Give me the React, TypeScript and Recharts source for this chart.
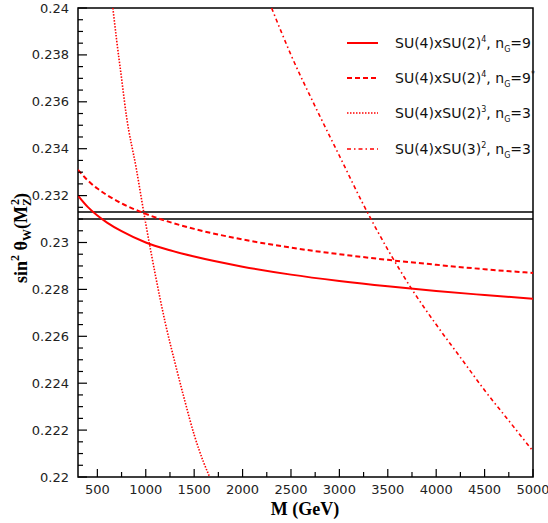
import { LineChart, Line, XAxis, YAxis, ReferenceLine, ReferenceArea, Legend } from 'recharts'

// SU(4)xSU(2)^4, nG=9
const massA = [300, 400, 500, 600, 750, 1000, 1250, 1500, 2000, 2500, 3000, 3500, 4000, 4500, 5000]
const sinA = [0.232, 0.23152, 0.23115, 0.23085, 0.23048, 0.23, 0.22967, 0.2294, 0.22897, 0.22863, 0.22836, 0.22813, 0.22793, 0.22776, 0.2276]

// SU(4)xSU(2)^4, nG=9*
const massB = [300, 400, 500, 600, 750, 1000, 1250, 1500, 2000, 2500, 3000, 3500, 4000, 4500, 5000]
const sinB = [0.2331, 0.23265, 0.2323, 0.23202, 0.23167, 0.23122, 0.23087, 0.23058, 0.23013, 0.22978, 0.2295, 0.22926, 0.22905, 0.22886, 0.2287]

// SU(4)xSU(2)^3, nG=3
const massC = [660, 700, 750, 800, 900, 1000, 1100, 1200, 1300, 1400, 1500, 1600, 1660]
const sinC = [0.24, 0.2386, 0.237, 0.2354, 0.2332, 0.2308, 0.2286, 0.2266, 0.2249, 0.2233, 0.2218, 0.2206, 0.22]

// SU(4)xSU(3)^2, nG=3
const massD = [2300, 2500, 2750, 3000, 3250, 3500, 3750, 4000, 4250, 4500, 4750, 5000]
const sinD = [0.24, 0.238, 0.2358, 0.2337, 0.2316, 0.2297, 0.228, 0.2265, 0.2251, 0.2237, 0.2224, 0.2211]

// experimental band
const bandLines = [0.2313, 0.231]

const xTicks = [500, 750, 1000, 1250, 1500, 1750, 2000, 2250, 2500, 2750, 3000, 3250, 3500, 3750, 4000, 4250, 4500, 4750, 5000]
const yMajor = [0.22, 0.222, 0.224, 0.226, 0.228, 0.23, 0.232, 0.234, 0.236, 0.238, 0.24]
const yTicks: number[] = []
yMajor.forEach((v, i) => {
  yTicks.push(v)
  if (i < yMajor.length - 1) [1, 2, 3].forEach((k) => yTicks.push(v + k * 0.0005))
})

const toRows = (ms: number[], ss: number[]) => ms.map((m, i) => ({ m, s: ss[i] }))

const series = [
  { key: 'a', data: toRows(massA, sinA), dash: undefined, width: 2, sup: '4', n: '9', star: false },
  { key: 'b', data: toRows(massB, sinB), dash: '5 3', width: 2, sup: '4', n: '9', star: true },
  { key: 'c', data: toRows(massC, sinC), dash: '1.5 1.5', width: 1.6, sup: '3', n: '3', star: false },
  { key: 'd', data: toRows(massD, sinD), dash: '4 3 1.5 3', width: 1.6, sup: '2', n: '3', star: false, su3: true },
]

const RED = '#ff0000'
const SANS = 'DejaVu Sans, sans-serif'
const SERIF = 'Liberation Serif, Times New Roman, serif'

const XTick = ({ x, y, payload }: any) => {
  const v = payload.value
  const major = v % 500 === 0
  return (
    <g>
      <line x1={x} x2={x} y1={y} y2={y - (major ? 8 : 5)} stroke="#000" strokeWidth={1.2} />
      {major && (
        <text x={x} y={y + 17} textAnchor="middle" fontSize={13} fill="#222" fontFamily={SANS}>
          {v}
        </text>
      )}
    </g>
  )
}

const YTick = ({ x, y, payload }: any) => {
  const v = payload.value
  const major = Math.round(v * 10000) % 20 === 0
  return (
    <g>
      <line x1={x} x2={x + (major ? 9 : 5)} y1={y} y2={y} stroke="#000" strokeWidth={1.2} />
      {major && (
        <text x={x - 9} y={y + 4.5} textAnchor="end" fontSize={13} fill="#222" fontFamily={SANS}>
          {String(Number(v.toFixed(3)))}
        </text>
      )}
    </g>
  )
}

const XTitle = () => (
  <text x={305} y={515} textAnchor="middle" fontSize={18} fontWeight="bold" fontFamily={SERIF} fill="#000">
    M (GeV)
  </text>
)

const YTitle = () => (
  <text
    transform="translate(27,238) rotate(-90)"
    textAnchor="middle"
    fontSize={18}
    fontWeight="bold"
    fontFamily={SERIF}
    fill="#000"
  >
    sin
    <tspan dy={-8} fontSize={12}>2</tspan>
    <tspan dy={8}> θ</tspan>
    <tspan dy={4} fontSize={12}>W</tspan>
    <tspan dy={-4}>(M</tspan>
    <tspan dy={4} fontSize={12}>Z</tspan>
    <tspan dx={-7} dy={-12} fontSize={12}>2</tspan>
    <tspan dy={8}>)</tspan>
  </text>
)

const LegendBox = () => (
  <div style={{ fontFamily: SANS, fontSize: 14, color: '#111' }}>
    {series.map((s) => (
      <div key={s.key} style={{ display: 'flex', alignItems: 'center', height: 35.3, whiteSpace: 'nowrap' }}>
        <svg width={34} height={10} style={{ marginRight: 15 }}>
          <line x1={1} x2={32} y1={5} y2={5} stroke={RED} strokeWidth={s.width} strokeDasharray={s.dash} />
        </svg>
        <span>
          SU(4)xSU({s.su3 ? 3 : 2})<sup style={{ fontSize: 8, lineHeight: 0 }}>{s.sup}</sup>, n
          <sub style={{ fontSize: 8, lineHeight: 0 }}>G</sub>={s.n}
          {s.star && <sup style={{ fontSize: 8, lineHeight: 0 }}>*</sup>}
        </span>
      </div>
    ))}
  </div>
)

export default function App() {
  return (
    <div style={{ position: 'absolute', left: 0, top: 0, width: 548, height: 523, background: '#fff' }}>
      <LineChart width={548} height={523} margin={{ top: 8, right: 15, bottom: 0, left: 0 }}>
        <XAxis
          type="number"
          dataKey="m"
          domain={[300, 5000]}
          ticks={xTicks}
          interval={0}
          tick={<XTick />}
          tickSize={0}
          tickMargin={0}
          tickLine={false}
          axisLine={false}
          height={46}
          allowDataOverflow
          label={XTitle}
        />
        <YAxis
          type="number"
          domain={[0.22, 0.24]}
          ticks={yTicks}
          interval={0}
          tick={<YTick />}
          tickSize={0}
          tickMargin={0}
          tickLine={false}
          axisLine={false}
          width={78}
          allowDataOverflow
          label={YTitle}
        />
        <ReferenceArea x1={300} x2={5000} y1={0.22} y2={0.24} fill="none" stroke="#000" strokeWidth={1.5} />
        {bandLines.map((v) => (
          <ReferenceLine key={v} y={v} stroke="#000" strokeWidth={1.5} />
        ))}
        {series.map((s) => (
          <Line
            key={s.key}
            data={s.data}
            dataKey="s"
            type="monotone"
            stroke={RED}
            strokeWidth={s.width}
            strokeDasharray={s.dash}
            dot={false}
            activeDot={false}
            isAnimationActive={false}
          />
        ))}
        <Legend
          layout="vertical"
          align="center"
          verticalAlign="middle"
          wrapperStyle={{ top: 25, left: 346, width: 200 }}
          content={() => <LegendBox />}
        />
      </LineChart>
    </div>
  )
}
